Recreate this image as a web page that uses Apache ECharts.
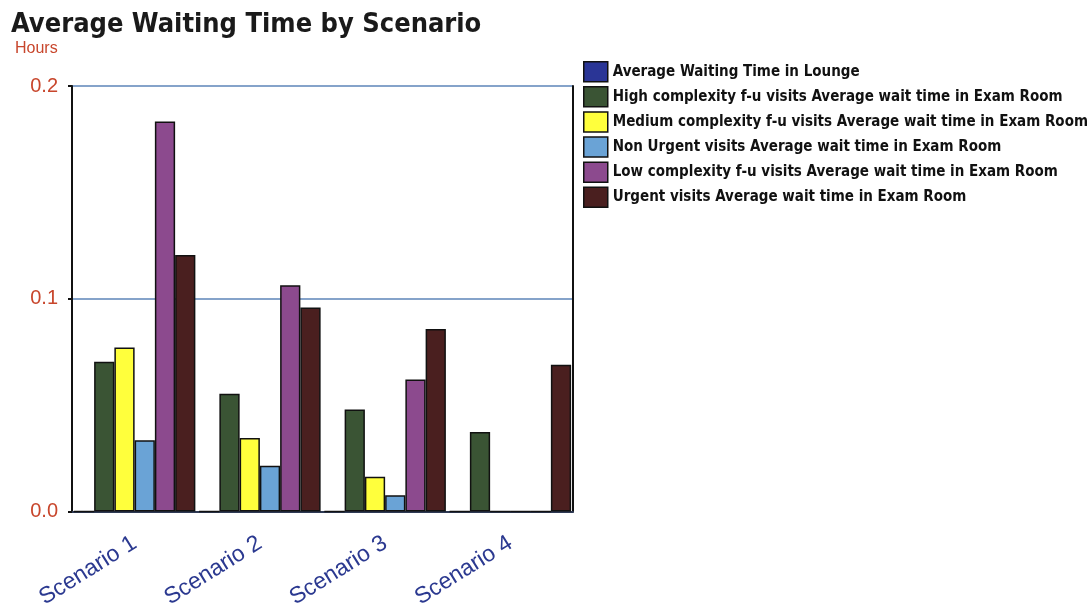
<!DOCTYPE html>
<html>
<head>
<meta charset="utf-8">
<script src="https://cdn.jsdelivr.net/npm/echarts@6/dist/echarts.min.js"></script>
<style>
  html, body { margin: 0; padding: 0; background: #fff; }
  #chart { width: 1089px; height: 611px; }
</style>
</head>
<body>
<div id="chart"></div>
<script>
// Average waiting time (hours) per scenario, one array per visit type
const scenarios = ['Scenario 1', 'Scenario 2', 'Scenario 3', 'Scenario 4'];
const yTicks = [0.0, 0.1, 0.2];

const loungeWait     = [0, 0, 0, 0];
const highComplexity = [0.0704, 0.0553, 0.0479, 0.0373];
const medComplexity  = [0.0771, 0.0345, 0.0163, 0];
const nonUrgent      = [0.0334, 0.0214, 0.0076, 0];
const lowComplexity  = [0.1833, 0.1063, 0.0620, 0];
const urgent         = [0.1205, 0.0959, 0.0857, 0.0689];

const seriesDefs = [
  { name: 'Average Waiting Time in Lounge', data: loungeWait, color: '#2a3596' },
  { name: 'High complexity f-u visits Average wait time in Exam Room', data: highComplexity, color: '#3a5434' },
  { name: 'Medium complexity f-u visits Average wait time in Exam Room', data: medComplexity, color: '#ffff3c' },
  { name: 'Non Urgent visits Average wait time in Exam Room', data: nonUrgent, color: '#6aa3d6' },
  { name: 'Low complexity f-u visits Average wait time in Exam Room', data: lowComplexity, color: '#8c4a8e' },
  { name: 'Urgent visits Average wait time in Exam Room', data: urgent, color: '#4a1f1f' }
];

const chart = echarts.init(document.getElementById('chart'), null, { renderer: 'canvas' });

chart.setOption({
  backgroundColor: '#ffffff',
  animation: false,
  title: [
    {
      text: 'Average Waiting Time by Scenario',
      left: 6, top: 6,
      textStyle: { fontFamily: 'DejaVu Sans Condensed', fontWeight: 'bold', fontSize: 27, color: '#1a1a1a' }
    },
    {
      text: 'Hours',
      left: 10, top: 36,
      textStyle: { fontFamily: 'Liberation Sans', fontWeight: 'normal', fontSize: 16, color: '#c8462c' }
    }
  ],
  legend: {
    orient: 'vertical',
    left: 578, top: 56,
    itemWidth: 24, itemHeight: 20, itemGap: 3.6,
    icon: 'rect',
    selectedMode: false,
    itemStyle: { borderColor: '#111', borderWidth: 1.5 },
    textStyle: { fontFamily: 'DejaVu Sans Condensed', fontWeight: 'bold', fontSize: 15, color: '#111' },
    data: seriesDefs.map(s => s.name)
  },
  grid: { left: 72, right: 516, top: 86, bottom: 98, containLabel: false },
  xAxis: {
    type: 'category',
    data: scenarios,
    axisLine: { lineStyle: { color: '#2e3a55', width: 2 } },
    axisTick: { alignWithLabel: true, length: 7, lineStyle: { color: '#111', width: 2 } },
    axisLabel: {
      rotate: 32, margin: 30,
      fontFamily: 'Liberation Sans', fontSize: 23, color: '#2b3990'
    }
  },
  yAxis: [
    {
      type: 'value',
      min: yTicks[0], max: yTicks[yTicks.length - 1], interval: 0.1,
      axisLine: { show: true, lineStyle: { color: '#111', width: 2 } },
      axisTick: { show: true, length: 4, lineStyle: { color: '#111', width: 2 } },
      splitLine: { show: true, lineStyle: { color: '#5d84b8', width: 1.5 } },
      axisLabel: {
        margin: 14,
        fontFamily: 'Liberation Sans', fontSize: 20, color: '#c8462c',
        formatter: v => v.toFixed(1)
      }
    },
    {
      type: 'value', position: 'right',
      min: yTicks[0], max: yTicks[yTicks.length - 1], interval: 0.1,
      axisLine: { show: true, lineStyle: { color: '#111', width: 2 } },
      axisTick: { show: false }, axisLabel: { show: false }, splitLine: { show: false }
    }
  ],
  series: seriesDefs.map(s => ({
    name: s.name,
    type: 'bar',
    data: s.data,
    barGap: '0%',
    barCategoryGap: '3%',
    itemStyle: { color: s.color, borderColor: '#111', borderWidth: 1.5 }
  }))
});
</script>
</body>
</html>
